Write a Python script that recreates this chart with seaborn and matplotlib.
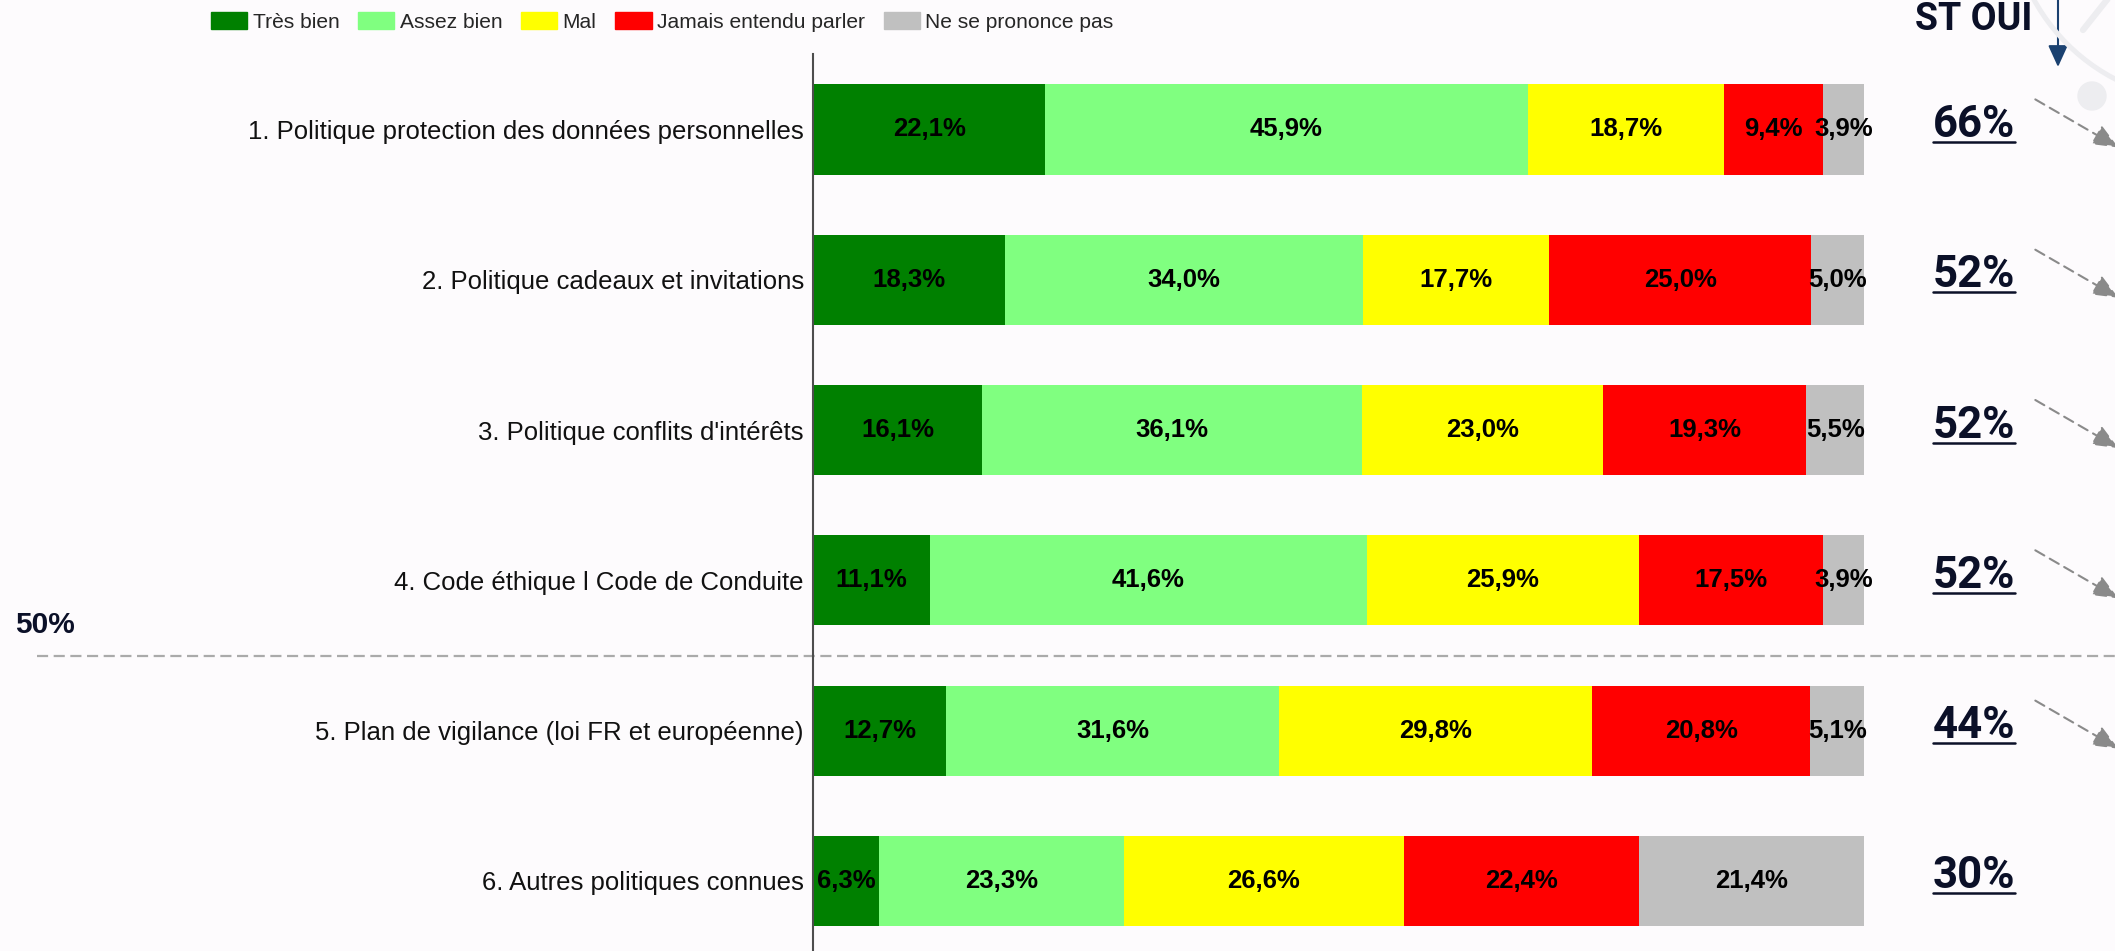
import matplotlib
matplotlib.use("Agg")
import matplotlib.pyplot as plt
import matplotlib.patches as mpatches
import matplotlib.transforms as mtransforms
from matplotlib.lines import Line2D
import seaborn as sns
import numpy as np

# data
categories = [
    "1. Politique protection des données personnelles",
    "2. Politique cadeaux et invitations",
    "3. Politique conflits d'intérêts",
    "4. Code éthique l Code de Conduite",
    "5. Plan de vigilance (loi FR et européenne)",
    "6. Autres politiques connues",
]
tres_bien = [22.1, 18.3, 16.1, 11.1, 12.7, 6.3]
assez_bien = [45.9, 34.0, 36.1, 41.6, 31.6, 23.3]
mal = [18.7, 17.7, 23.0, 25.9, 29.8, 26.6]
jamais = [9.4, 25.0, 19.3, 17.5, 20.8, 22.4]
nsp = [3.9, 5.0, 5.5, 3.9, 5.1, 21.4]
st_oui = [66, 52, 52, 52, 44, 30]
has_arrow = [True, True, True, True, True, False]
series_names = ["Très bien", "Assez bien", "Mal", "Jamais entendu parler", "Ne se prononce pas"]
colors = ["#008000", "#80ff80", "#ffff00", "#ff0000", "#c0c0c0"]
threshold_label = "50%"

W, H = 2115, 951
bg = "#fdfbfd"
navy = "#0b1028"

sns.set_theme(style="white")
plt.rcParams["font.family"] = ["Liberation Sans", "DejaVu Sans"]

fig = plt.figure(figsize=(W / 100, H / 100), dpi=100, facecolor=bg)
# axes: 0..100 spans px 813..1864, top of axis line at px 54
ax = fig.add_axes([813 / W, 0, 1051 / W, 1 - 54 / H])
ax.set_facecolor("none")

values = np.array([tres_bien, assez_bien, mal, jamais, nsp])
cum = np.cumsum(values, axis=0)

# stacked bars: draw cumulative totals from the longest down
for i in reversed(range(len(series_names))):
    sns.barplot(x=cum[i], y=categories, color=colors[i], width=0.6,
                saturation=1, errorbar=None, orient="h", linewidth=0, ax=ax)

for i in range(len(series_names)):
    for j in range(len(categories)):
        v = values[i, j]
        ax.text(cum[i, j] - v / 2, j, f"{v:.1f}".replace(".", ",") + "%",
                ha="center", va="center", fontsize=18.5, fontweight="bold",
                color="black")

ax.set_xlim(0, 100)
ax.set_ylim(5.466, -0.502)
ax.set_xticks([])
ax.set_yticks(range(len(categories)))
ax.set_yticklabels(categories, fontsize=18.5, color="#111111")
ax.tick_params(axis="y", length=0, pad=6.5)
ax.set_xlabel("")
ax.set_ylabel("")
for s in ["top", "right", "bottom"]:
    ax.spines[s].set_visible(False)
ax.spines["left"].set_color("#4d4d4d")
ax.spines["left"].set_linewidth(1.5)

# legend
handles = [mpatches.Patch(color=c, label=n) for n, c in zip(series_names, colors)]
fig.legend(handles=handles, loc="center left", bbox_to_anchor=(211 / W, 1 - 22 / H),
           ncol=5, frameon=False, fontsize=15.1, handlelength=1.73, handleheight=0.82,
           handletextpad=0.25, columnspacing=0.9, borderpad=0, borderaxespad=0)

# 50% threshold line
blend = mtransforms.blended_transform_factory(fig.transFigure, ax.transData)
ax.plot([37 / W, 1.0], [3.503, 3.503], transform=blend, color="#aaaaaa",
        lw=1.6, linestyle=(0, (5, 2.5)), clip_on=False)
ax.text(15 / W, 3.35, threshold_label, transform=blend, ha="left", va="baseline",
        fontsize=21.5, fontweight="bold", color=navy)

# background decorations (top right)
fig.patches.append(mpatches.Circle((2205, 1045), 195, transform=None, fill=False,
                                   edgecolor="#ededf0", lw=3.6))
fig.lines.append(Line2D([2083, 2110], [921, 955], transform=None, color="#ededf0", lw=4.5))
fig.patches.append(mpatches.Circle((2092, 855), 14, transform=None, color="#ededf0"))

# ST OUI header and arrow
fig.text(1973.5 / W, 1 - 30 / H, "ST OUI", ha="center", va="baseline",
         fontsize=27, fontweight="bold", color=navy, family=["Roboto", "DejaVu Sans"])
ax.annotate("", xy=(2058, H - 67), xycoords="figure pixels",
            xytext=(2058, H + 5), textcoords="figure pixels",
            arrowprops=dict(arrowstyle="-|>,head_length=1.1,head_width=0.5",
                            color="#1b4170", lw=1.5, shrinkA=0, shrinkB=0))

# ST OUI values, underlined, with trend arrows
xc = (1974 - 813) / 1051 * 100
texts = []
for j, p in enumerate(st_oui):
    t = ax.text(xc, j + 0.05, f"{p}%", ha="center", va="baseline", fontsize=31.5,
                fontweight="bold", color=navy, family=["Roboto", "DejaVu Sans"],
                clip_on=False)
    texts.append(t)
    if has_arrow[j]:
        ax.annotate("", xy=(124.2, j + 0.12), xytext=(116.3, j - 0.2),
                    arrowprops=dict(arrowstyle="-|>,head_length=1.3,head_width=0.55",
                                    color="#8a8a8a", lw=1.5, linestyle=(0, (5, 3)),
                                    shrinkA=0, shrinkB=0),
                    annotation_clip=False)

fig.canvas.draw()
r = fig.canvas.get_renderer()
for j, t in enumerate(texts):
    bb = t.get_window_extent(renderer=r)
    yb = ax.transData.transform((xc, j + 0.05))[1] - 5
    fig.lines.append(Line2D([bb.x0, bb.x1], [yb, yb], transform=None,
                            color=navy, lw=1.8))

fig.savefig("out.png", dpi=100, facecolor=bg)
